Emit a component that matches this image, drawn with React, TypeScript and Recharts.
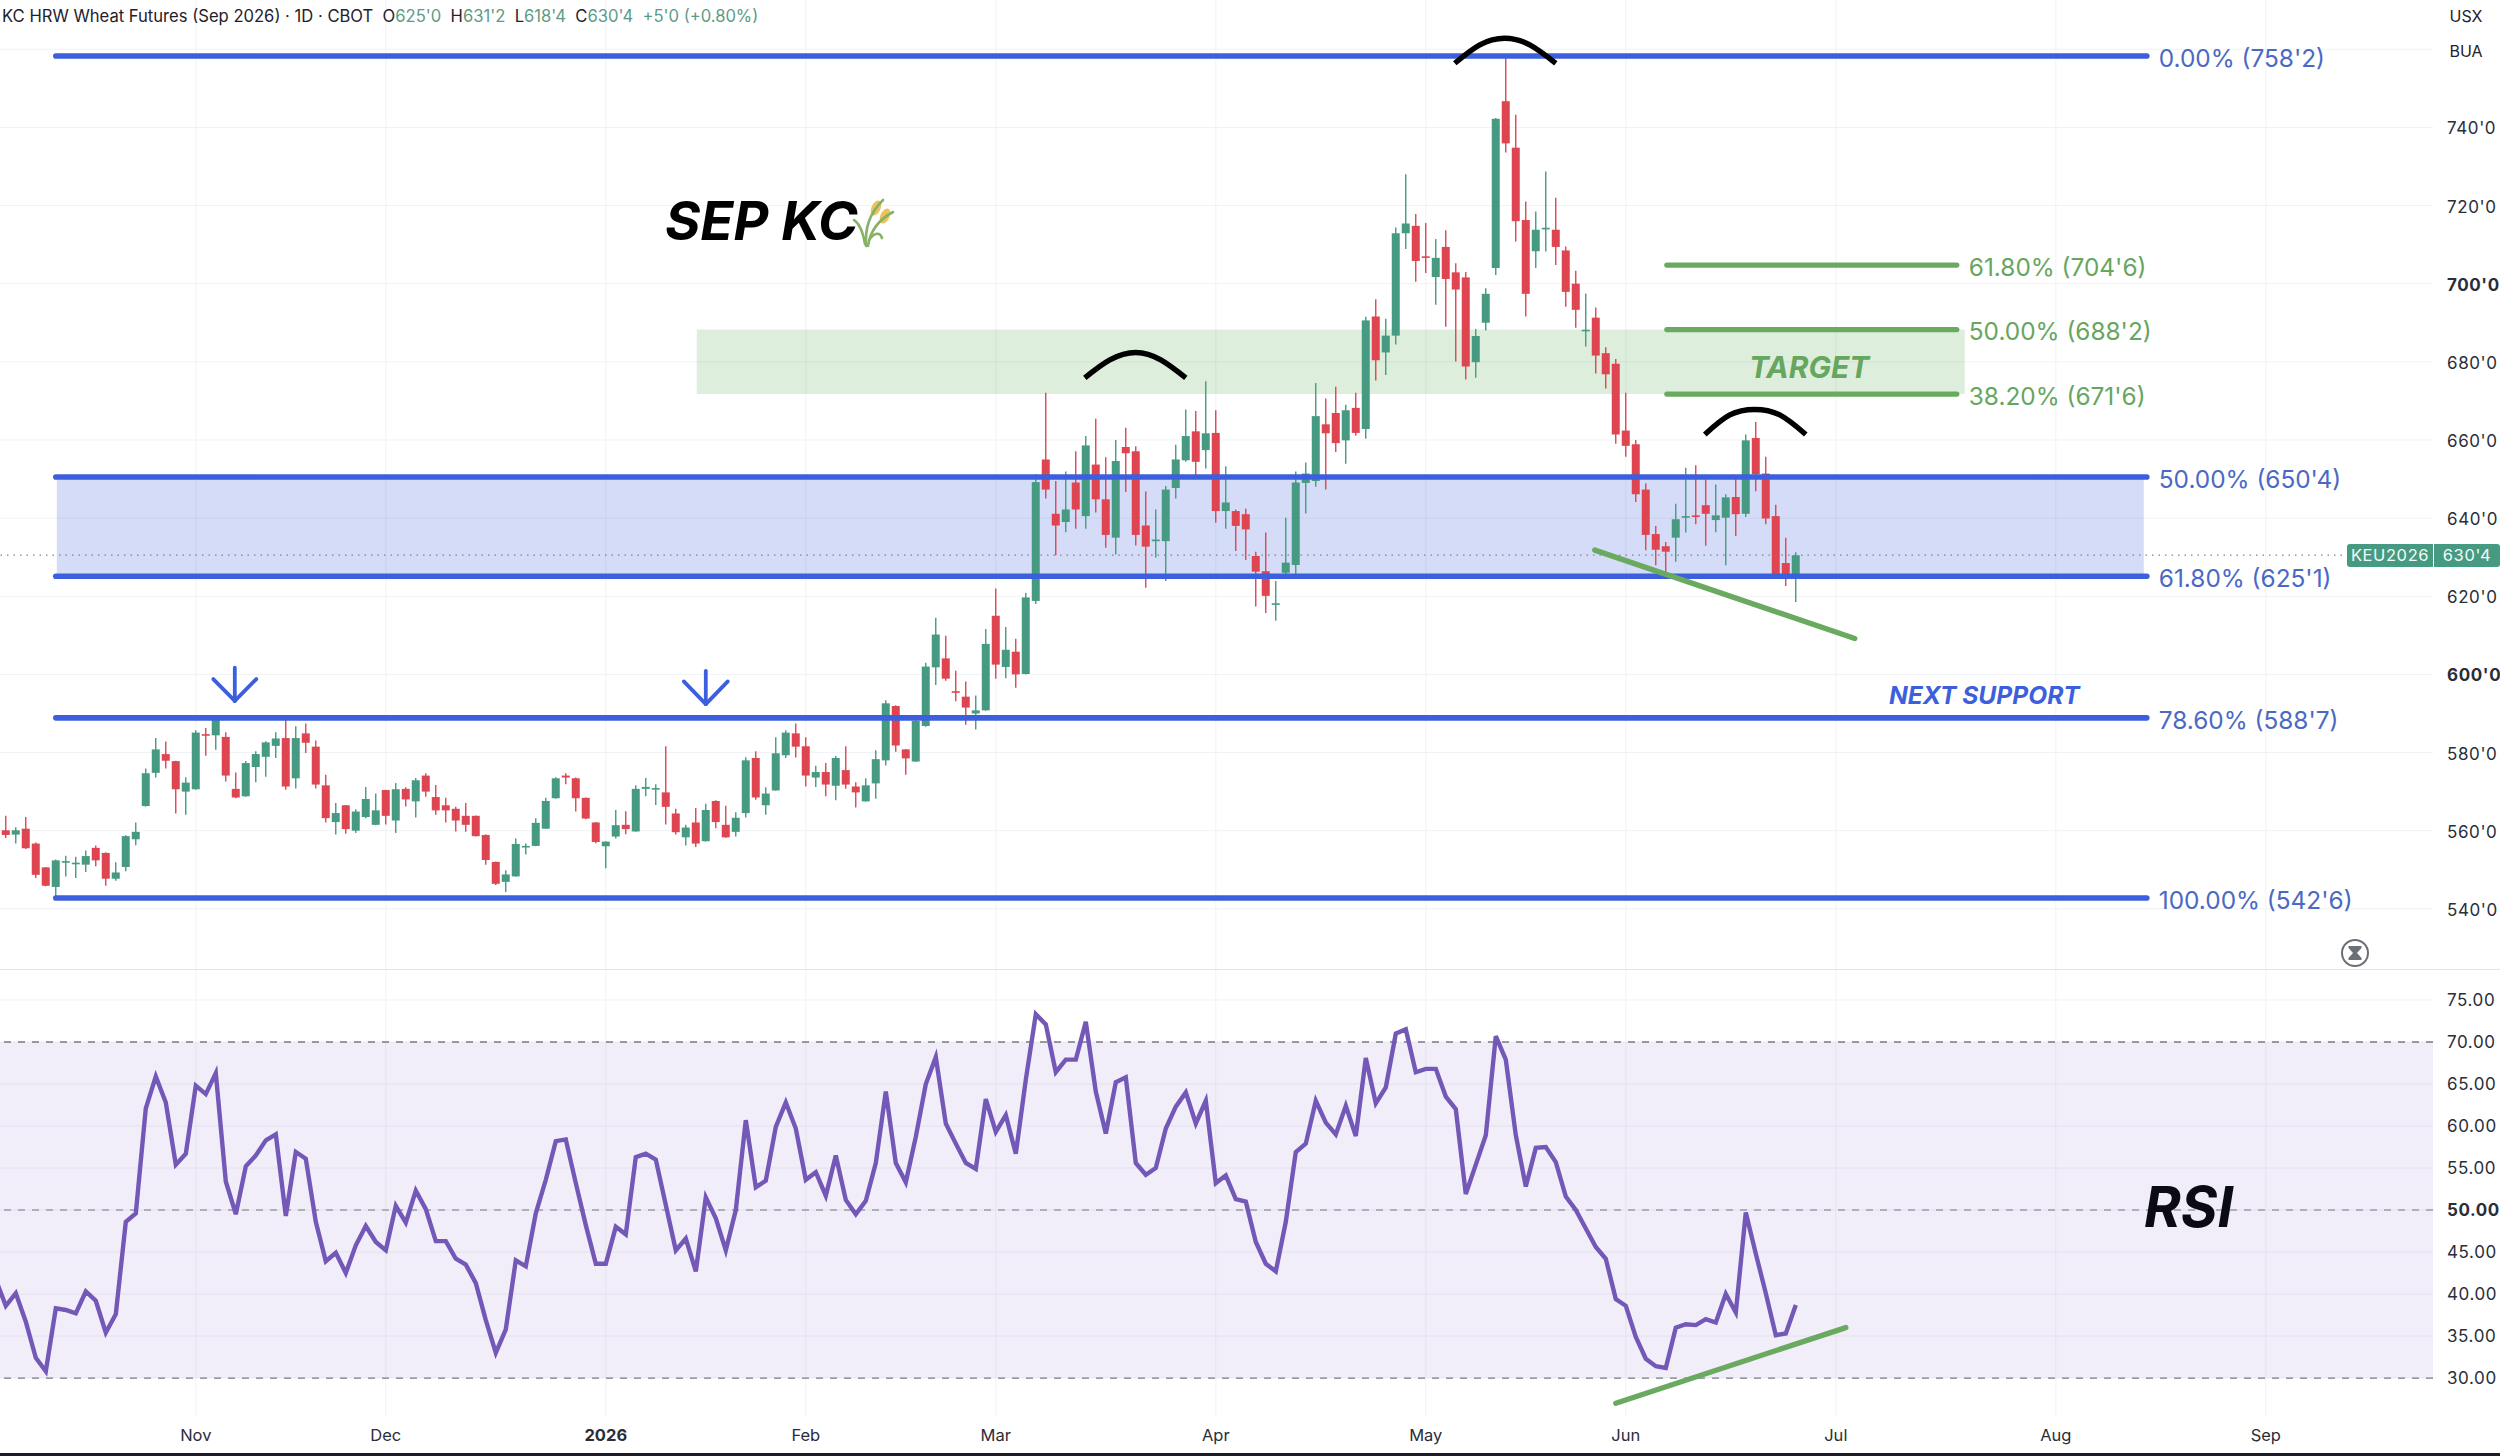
import {
  Bar,
  CartesianGrid,
  ComposedChart,
  Line,
  LineChart,
  ReferenceArea,
  ReferenceLine,
  XAxis,
  YAxis,
} from "recharts";

const FONT = "Inter, 'Liberation Sans', sans-serif";
const UP = "#459a81";
const DOWN = "#de4550";
const BLUE = "#3c5fdd";
const BLUE_TEXT = "#4a69c4";
const GREEN = "#6aaa60";
const GRID = "#f0f2f5";

const opens = [
  560.1, 559.0, 560.5, 556.7, 550.6, 545.6, 552.0, 551.5, 551.3, 555.6,
  554.3, 547.7, 550.7, 557.8, 566.3, 574.8, 579.6, 577.8, 570.0, 570.6,
  584.7, 584.4, 584.0, 570.7, 568.8, 576.3, 578.9, 581.7, 583.7, 573.4,
  584.9, 581.5, 571.6, 562.2, 566.5, 560.0, 563.5, 561.5, 570.4, 562.6,
  570.7, 567.5, 574.1, 568.6, 566.5, 565.6, 563.8, 563.8, 558.9, 552.0,
  546.9, 548.3, 555.9, 556.1, 560.5, 568.3, 574.1, 573.4, 568.4, 562.1,
  556.0, 558.5, 561.5, 559.8, 570.7, 570.7, 569.8, 564.4, 558.3, 562.1,
  557.3, 567.6, 561.5, 559.7, 564.5, 578.6, 566.5, 570.3, 579.3, 584.9,
  581.6, 573.6, 575.0, 571.5, 575.5, 571.3, 567.5, 572.1, 578.0, 591.9,
  580.8, 577.7, 586.8, 601.8, 604.1, 595.7, 594.3, 590.0, 590.8, 615.0,
  601.9, 605.8, 600.1, 618.8, 655.0, 641.1, 639.0, 649.1, 640.5, 653.7,
  644.8, 635.0, 658.2, 657.1, 638.1, 634.1, 634.1, 647.7, 654.8, 662.2,
  657.4, 661.8, 641.8, 641.8, 641.0, 630.3, 626.4, 617.8, 626.0, 628.0,
  649.0, 649.5, 664.0, 666.9, 659.9, 668.2, 662.8, 691.6, 682.4, 686.7,
  712.9, 714.8, 707.0, 701.7, 709.4, 702.9, 701.6, 679.9, 690.0, 704.0,
  746.7, 734.8, 716.3, 708.3, 714.0, 713.8, 708.5, 700.0, 688.0, 691.3,
  682.2, 679.5, 662.4, 658.9, 647.3, 635.9, 632.8, 635.0, 640.1, 640.7,
  643.3, 639.5, 640.1, 645.4, 641.1, 660.5, 651.4, 640.5, 628.5, 625.0,
];

const highs = [
  563.8, 560.9, 563.5, 557.0, 550.7, 552.6, 553.6, 553.3, 554.9, 556.2,
  554.5, 551.9, 558.8, 562.1, 575.9, 583.7, 582.8, 577.9, 573.7, 585.7,
  586.3, 589.5, 585.2, 574.9, 577.8, 580.3, 582.9, 585.2, 588.7, 586.7,
  587.4, 583.1, 574.3, 567.1, 566.6, 565.5, 571.2, 569.5, 570.5, 572.2,
  571.1, 573.5, 574.7, 571.7, 568.4, 566.1, 567.1, 563.9, 559.0, 552.1,
  549.9, 558.0, 556.7, 563.2, 568.4, 573.7, 574.7, 573.6, 568.5, 562.2,
  557.3, 565.3, 565.0, 571.6, 573.5, 571.9, 581.6, 565.6, 561.5, 565.8,
  566.9, 567.8, 566.4, 564.7, 578.8, 580.3, 571.1, 583.9, 585.7, 587.4,
  583.9, 576.6, 577.3, 579.1, 581.6, 572.4, 573.4, 580.6, 593.4, 592.1,
  580.9, 589.0, 603.0, 614.5, 609.9, 600.9, 598.2, 594.6, 611.6, 622.0,
  612.1, 609.1, 620.9, 651.2, 672.1, 649.5, 651.9, 657.1, 661.0, 665.4,
  655.6, 660.0, 663.1, 658.4, 646.8, 642.2, 648.2, 658.8, 667.8, 667.4,
  675.0, 667.6, 653.3, 642.2, 642.4, 631.4, 636.3, 623.9, 640.1, 651.9,
  654.2, 674.6, 670.6, 673.6, 669.0, 672.1, 691.5, 696.0, 691.0, 714.4,
  728.0, 717.8, 715.5, 711.4, 713.7, 705.2, 703.0, 688.4, 698.8, 742.4,
  758.25, 743.2, 721.0, 718.5, 728.7, 722.0, 709.5, 703.3, 697.5, 693.9,
  683.7, 680.7, 672.1, 660.0, 648.9, 638.0, 633.9, 643.7, 652.9, 653.5,
  650.1, 648.6, 646.1, 650.6, 661.4, 664.6, 655.7, 643.4, 635.0, 631.25,
];

const lows = [
  558.1, 556.7, 555.3, 547.9, 545.8, 543.0, 548.3, 547.9, 549.4, 550.9,
  545.9, 547.2, 549.6, 556.3, 566.2, 573.6, 575.9, 564.4, 564.1, 570.5,
  579.2, 580.7, 572.6, 568.3, 568.7, 572.4, 573.8, 578.6, 570.5, 570.8,
  579.9, 570.8, 562.1, 559.0, 559.2, 559.4, 563.2, 561.4, 561.6, 559.4,
  566.2, 563.4, 568.7, 564.1, 562.1, 559.8, 559.7, 558.5, 551.3, 546.1,
  544.3, 548.2, 553.9, 556.0, 560.4, 568.2, 571.9, 564.9, 562.9, 556.8,
  550.4, 558.0, 559.1, 559.7, 568.8, 566.6, 561.6, 559.0, 556.2, 555.8,
  557.2, 560.6, 558.2, 558.5, 563.4, 567.9, 564.1, 570.2, 578.6, 578.7,
  571.3, 571.2, 568.8, 567.8, 570.7, 565.9, 567.4, 568.2, 576.7, 580.2,
  574.3, 577.6, 586.6, 597.3, 598.4, 593.1, 587.1, 585.9, 590.7, 598.9,
  599.0, 596.6, 600.0, 618.0, 645.0, 630.5, 636.4, 637.3, 637.3, 641.4,
  632.4, 630.7, 646.7, 633.0, 622.2, 629.9, 623.9, 645.0, 654.4, 650.1,
  652.7, 638.8, 637.3, 631.6, 629.3, 617.4, 615.7, 613.7, 625.2, 624.5,
  641.2, 648.0, 647.3, 656.9, 653.9, 661.1, 660.3, 675.2, 676.6, 684.4,
  708.9, 700.5, 702.7, 694.6, 689.0, 680.1, 675.5, 675.9, 688.0, 702.2,
  733.6, 710.8, 691.6, 704.0, 708.2, 704.8, 694.1, 688.7, 683.9, 677.0,
  673.2, 659.0, 655.7, 644.1, 631.8, 627.9, 625.9, 628.8, 636.3, 638.4,
  632.9, 636.4, 627.9, 635.4, 640.3, 646.9, 638.4, 625.0, 622.6, 618.5,
];

const closes = [
  558.9, 560.1, 555.5, 548.7, 545.9, 552.4, 552.2, 551.8, 553.5, 552.4,
  547.7, 549.3, 558.6, 559.7, 574.7, 580.8, 577.9, 570.6, 572.3, 585.1,
  584.5, 588.5, 574.1, 568.5, 577.3, 579.6, 582.6, 583.6, 571.3, 583.7,
  582.5, 571.8, 563.2, 564.5, 560.4, 564.9, 568.1, 565.2, 563.8, 570.6,
  568.0, 572.9, 570.0, 565.2, 565.2, 562.6, 561.5, 558.6, 552.5, 546.4,
  548.8, 556.6, 556.1, 562.0, 567.6, 573.4, 573.6, 568.3, 563.1, 557.1,
  557.2, 561.4, 560.4, 570.7, 571.2, 570.9, 566.1, 559.6, 560.8, 556.7,
  565.3, 562.2, 558.3, 563.3, 578.0, 568.5, 569.5, 579.8, 585.1, 581.5,
  574.1, 575.0, 571.8, 578.6, 571.8, 569.8, 571.6, 578.3, 592.6, 581.8,
  578.5, 588.1, 602.0, 610.2, 598.9, 595.5, 591.5, 590.8, 607.8, 602.5,
  606.3, 600.0, 619.7, 649.2, 647.3, 638.1, 642.2, 642.2, 658.6, 644.8,
  635.7, 654.6, 656.6, 635.7, 632.7, 634.5, 647.3, 655.0, 661.0, 654.4,
  661.7, 641.8, 644.0, 638.0, 637.1, 626.3, 620.1, 618.2, 628.6, 649.1,
  651.4, 666.1, 661.7, 659.2, 667.6, 661.8, 690.6, 680.4, 686.7, 712.9,
  715.4, 705.8, 706.8, 706.6, 701.2, 698.5, 678.8, 686.6, 697.4, 742.2,
  735.9, 716.0, 697.4, 713.8, 714.3, 709.4, 697.9, 693.3, 688.2, 681.6,
  676.8, 661.4, 658.5, 646.1, 635.7, 631.9, 631.4, 639.7, 640.5, 640.5,
  641.1, 640.7, 645.3, 641.0, 659.9, 651.2, 639.9, 625.1, 625.4, 630.5,
];

// starts one session before the first candle, the line runs off the left edge
const rsiValues = [
  41.7,
  38.6, 40.1, 36.7, 32.4, 30.8, 38.3, 38.1, 37.7, 40.3, 39.2,
  35.4, 37.6, 48.6, 49.6, 62.1, 65.9, 62.8, 55.4, 56.7, 64.8,
  63.8, 66.3, 53.4, 49.5, 55.2, 56.5, 58.3, 59.0, 49.3, 56.9,
  56.1, 48.6, 43.9, 44.9, 42.5, 45.8, 48.1, 46.2, 45.2, 50.5,
  48.5, 52.3, 50.1, 46.3, 46.3, 44.2, 43.5, 41.3, 36.9, 33.0,
  35.8, 44.0, 43.3, 49.6, 53.6, 58.2, 58.4, 53.2, 48.2, 43.6,
  43.6, 48.0, 47.1, 56.3, 56.7, 56.0, 50.6, 45.2, 46.6, 42.7,
  51.5, 49.0, 45.2, 50.0, 60.7, 52.7, 53.5, 59.9, 62.8, 59.7,
  53.6, 54.5, 51.7, 56.5, 51.2, 49.5, 51.1, 55.6, 64.1, 55.6,
  53.3, 58.7, 65.0, 68.2, 60.3, 57.9, 55.6, 54.9, 63.2, 59.3,
  61.3, 56.7, 65.5, 73.3, 72.1, 66.4, 67.9, 67.9, 72.4, 64.1,
  59.1, 65.2, 65.8, 55.6, 54.2, 55.0, 59.7, 62.3, 64.0, 60.3,
  63.0, 53.2, 54.1, 51.3, 51.0, 46.2, 43.6, 42.7, 48.6, 56.9,
  57.9, 63.0, 60.4, 59.0, 62.4, 58.8, 68.1, 62.7, 64.6, 71.0,
  71.5, 66.4, 66.8, 66.8, 63.5, 62.0, 51.9, 55.4, 58.9, 70.7,
  67.9, 58.9, 52.8, 57.4, 57.5, 55.7, 51.6, 50.0, 47.8, 45.6,
  44.2, 39.4, 38.6, 34.9, 32.3, 31.4, 31.2, 36.0, 36.4, 36.3,
  37.0, 36.6, 40.0, 37.8, 49.7, 44.8, 40.1, 35.1, 35.3, 38.7,
];

const monthTicks = [19, 38, 60, 80, 99, 121, 142, 162, 183, 205, 226];
const monthLabels = ["Nov", "Dec", "2026", "Feb", "Mar", "Apr", "May", "Jun", "Jul", "Aug", "Sep"];

const priceTicks = [540, 560, 580, 600, 620, 640, 660, 680, 700, 720, 740];
const priceGrid = [...priceTicks, 760];
const rsiTicks = [30, 35, 40, 45, 50, 55, 60, 65, 70, 75];

const blueFibs = [
  { price: 758.25, label: "0.00% (758'2)" },
  { price: 650.5, label: "50.00% (650'4)" },
  { price: 625.125, label: "61.80% (625'1)" },
  { price: 588.875, label: "78.60% (588'7)" },
  { price: 542.75, label: "100.00% (542'6)" },
];
const greenFibs = [
  { price: 704.75, label: "61.80% (704'6)" },
  { price: 688.25, label: "50.00% (688'2)" },
  { price: 671.75, label: "38.20% (671'6)" },
];

const arcs = [
  [[107.9, 675.9], [110.4, 680.5], [113, 682.4], [115.5, 680.5], [118, 675.9]],
  [[144.9, 756.4], [147.4, 761.1], [149.9, 762.8], [152.4, 761.1], [155, 756.4]],
  [[169.9, 661.4], [172.4, 666.4], [174.9, 667.8], [177.4, 666.4], [180, 661.4]],
];

// each arrow: shaft top, left barb, right barb, all ending on the tip
const arrows = [
  { i: 22.9, tip: 593.2, top: 601.7, barb: 598.8, spread: 2.15 },
  { i: 70.0, tip: 592.4, top: 600.9, barb: 598.2, spread: 2.2 },
];

const candles = opens.map((open, i) => ({
  i,
  open,
  high: highs[i],
  low: lows[i],
  close: closes[i],
  range: [lows[i], highs[i]],
}));
const rsiRows = rsiValues.map((rsi, n) => ({ i: n - 1, rsi }));

const X_DOMAIN: [number, number] = [-0.58, 242.72];
const PRICE_DOMAIN: [number, number] = [524.34, 772.6];
const RSI_DOMAIN: [number, number] = [25.48, 78.57];

function Candle(props: any) {
  const { x, y, width, height, payload } = props;
  const { open, high, low, close } = payload;
  const unit = height / (high - low);
  const top = y + (high - Math.max(open, close)) * unit;
  const body = Math.max(Math.abs(open - close) * unit, 1.6);
  const color = close >= open ? UP : DOWN;
  const mid = x + width / 2;
  return (
    <g>
      <line x1={mid} x2={mid} y1={y} y2={y + height} stroke={color} strokeWidth={1.4} />
      <rect x={mid - 4} y={top} width={8} height={body} fill={color} />
    </g>
  );
}

function PriceTick({ x, y, payload }: any) {
  const bold = payload.value === 700 || payload.value === 600;
  return (
    <text x={x} y={y + 7} fontFamily={FONT} fontSize={17} fontWeight={bold ? 700 : 400} fill="#2a2e39" letterSpacing={0.6}>
      {`${payload.value}'0`}
    </text>
  );
}

function RsiTick({ x, y, payload }: any) {
  return (
    <text x={x} y={y + 6} fontFamily={FONT} fontSize={17} fontWeight={payload.value === 50 ? 700 : 400} fill="#2a2e39" letterSpacing={0.6}>
      {payload.value.toFixed(2)}
    </text>
  );
}

function MonthTick({ x, y, payload }: any) {
  const label = monthLabels[monthTicks.indexOf(payload.value)];
  return (
    <text x={x} y={y + 17} textAnchor="middle" fontFamily={FONT} fontSize={16.5} fontWeight={label === "2026" ? 700 : 400} fill="#2a2e39">
      {label}
    </text>
  );
}

function PriceChart() {
  return (
    <ComposedChart width={2500} height={970} data={candles} margin={{ top: 0, right: 0, bottom: 0, left: 0 }}>
      <CartesianGrid stroke={GRID} horizontalValues={priceGrid} verticalValues={monthTicks} />
      <XAxis dataKey="i" type="number" domain={X_DOMAIN} allowDataOverflow hide />
      <YAxis
        orientation="right"
        width={67}
        type="number"
        domain={PRICE_DOMAIN}
        allowDataOverflow
        ticks={priceTicks}
        tick={<PriceTick />}
        tickLine={false}
        axisLine={false}
        tickMargin={8}
      />
      <ReferenceArea x1={5.1} x2={213.8} y1={625.125} y2={650.5} fill={BLUE} fillOpacity={0.22} stroke="none" />
      <ReferenceArea x1={69.1} x2={195.9} y1={671.75} y2={688.25} fill="#5aa850" fillOpacity={0.2} stroke="none" />
      <ReferenceLine y={630.5} stroke="#7b8290" strokeDasharray="1.5 5" strokeWidth={1.2} />
      {blueFibs.map((f) => (
        <ReferenceLine
          key={f.label}
          segment={[{ x: 5, y: f.price }, { x: 214.1, y: f.price }]}
          stroke={BLUE}
          strokeWidth={5.6}
          strokeLinecap="round"
          label={{ value: f.label, position: "right", offset: 12, dy: 2, fill: BLUE_TEXT, fontSize: 24.4, fontFamily: FONT }}
        />
      ))}
      {greenFibs.map((f) => (
        <ReferenceLine
          key={f.label}
          segment={[{ x: 166.1, y: f.price }, { x: 195.1, y: f.price }]}
          stroke={GREEN}
          strokeWidth={5.2}
          strokeLinecap="round"
          label={{ value: f.label, position: "right", offset: 12, dy: 2, fill: "#66a65e", fontSize: 24.4, fontFamily: FONT }}
        />
      ))}
      <Bar dataKey="range" barSize={8} shape={<Candle />} isAnimationActive={false} />
      {arrows.flatMap((a) => [
        [a.i, a.top],
        [a.i - a.spread, a.barb],
        [a.i + a.spread, a.barb],
      ].map(([x, y]) => (
        <ReferenceLine
          key={`${a.i}-${x}`}
          segment={[{ x, y }, { x: a.i, y: a.tip }]}
          stroke={BLUE}
          strokeWidth={3.8}
          strokeLinecap="round"
        />
      )))}
      <ReferenceLine
        segment={[{ x: 158.9, y: 631.8 }, { x: 184.9, y: 609.2 }]}
        stroke={GREEN}
        strokeWidth={5.4}
        strokeLinecap="round"
      />
      {arcs.map((arc, n) => (
        <Line
          key={n}
          data={arc.map(([i, y]) => ({ i, arc: y }))}
          dataKey="arc"
          type="natural"
          stroke="#000"
          strokeWidth={5.4}
          legendType="none"
          dot={false}
          activeDot={false}
          isAnimationActive={false}
        />
      ))}
    </ComposedChart>
  );
}

function RsiChart() {
  return (
    <LineChart width={2500} height={486} data={rsiRows} margin={{ top: 0, right: 0, bottom: 0, left: 0 }}>
      <CartesianGrid stroke={GRID} horizontalValues={rsiTicks} verticalValues={monthTicks} />
      <XAxis
        dataKey="i"
        type="number"
        domain={X_DOMAIN}
        allowDataOverflow
        ticks={monthTicks}
        height={40}
        tick={<MonthTick />}
        tickLine={false}
        axisLine={false}
      />
      <YAxis
        orientation="right"
        width={67}
        type="number"
        domain={RSI_DOMAIN}
        allowDataOverflow
        ticks={rsiTicks}
        tick={<RsiTick />}
        tickLine={false}
        axisLine={false}
        tickMargin={8}
      />
      <ReferenceArea y1={30} y2={70} fill="#7e5cc4" fillOpacity={0.1} stroke="none" />
      <ReferenceLine y={70} stroke="#787b86" strokeDasharray="7 7" strokeWidth={1.3} />
      <ReferenceLine y={50} stroke="#9a9ca5" strokeDasharray="7 7" strokeWidth={1.3} />
      <ReferenceLine y={30} stroke="#787b86" strokeDasharray="7 7" strokeWidth={1.3} />
      <Line dataKey="rsi" type="linear" stroke="#7358b8" strokeWidth={4.4} dot={false} isAnimationActive={false} />
      <ReferenceLine
        segment={[{ x: 161, y: 27 }, { x: 184, y: 36 }]}
        stroke={GREEN}
        strokeWidth={5.4}
        strokeLinecap="round"
      />
    </LineChart>
  );
}

function Note({ x, y, size, color, children }: any) {
  return (
    <div
      style={{
        position: "absolute",
        left: x,
        top: y,
        fontFamily: FONT,
        fontSize: size,
        fontWeight: 700,
        fontStyle: "italic",
        color,
        lineHeight: 1,
        whiteSpace: "nowrap",
      }}
    >
      {children}
    </div>
  );
}

function Wheat() {
  return (
    <svg style={{ position: "absolute", left: 852, top: 196 }} width={44} height={52} viewBox="0 0 44 52">
      <ellipse cx={24} cy={12} rx={4.5} ry={8} fill="#eec25a" transform="rotate(25 24 12)" />
      <ellipse cx={33} cy={20} rx={4.5} ry={8} fill="#eec25a" transform="rotate(25 33 20)" />
      <g fill="none" stroke="#86b266" strokeWidth={2.6} strokeLinecap="round">
        <path d="M14 50 C13 32 17 18 31 4" />
        <path d="M16 50 C18 36 26 24 41 16" />
        <path d="M13 48 C11 36 8 28 2 24" />
        <path d="M17 44 C23 36 28 36 30 42" />
      </g>
    </svg>
  );
}

function Hourglass() {
  return (
    <svg style={{ position: "absolute", left: 2340, top: 938 }} width={30} height={30} viewBox="0 0 30 30">
      <circle cx={15} cy={15} r={13} fill="#fff" stroke="#6b6f78" strokeWidth={2} />
      <path d="M8.5 8 H21.5 V10 L17 15 L21.5 20 V22 H8.5 V20 L13 15 L8.5 10 Z" fill="#6b6f78" />
    </svg>
  );
}

function Header() {
  const quote = { color: "#5d9a85" };
  return (
    <div
      style={{
        position: "absolute",
        left: 2,
        top: 6,
        fontFamily: FONT,
        fontSize: 16.6,
        lineHeight: "20px",
        color: "#1f222b",
        whiteSpace: "pre",
      }}
    >
      {"KC HRW Wheat Futures (Sep 2026) · 1D · CBOT  O"}
      <span style={quote}>625'0</span>
      {"  H"}
      <span style={quote}>631'2</span>
      {"  L"}
      <span style={quote}>618'4</span>
      {"  C"}
      <span style={quote}>630'4</span>
      <span style={quote}>{"  +5'0 (+0.80%)"}</span>
    </div>
  );
}

function PriceTag() {
  const cell = {
    position: "absolute" as const,
    top: 544,
    height: 23,
    lineHeight: "23px",
    background: "#479a82",
    color: "#f4fbf8",
    fontFamily: FONT,
    fontSize: 16.5,
    letterSpacing: 0.6,
    textAlign: "center" as const,
  };
  return (
    <>
      <div style={{ ...cell, left: 2347, width: 86, borderRadius: "3px 0 0 3px" }}>KEU2026</div>
      <div style={{ ...cell, left: 2434, width: 66, borderRadius: "0 3px 3px 0" }}>630'4</div>
    </>
  );
}

function CurrencyBox() {
  return (
    <div
      style={{
        position: "absolute",
        left: 2440,
        top: 0,
        width: 60,
        height: 67,
        background: "#fff",
        borderRadius: 5,
        fontFamily: FONT,
        fontSize: 16,
        color: "#1f222b",
        textAlign: "center",
      }}
    >
      <div style={{ position: "absolute", left: 0, right: 8, top: 6 }}>USX</div>
      <div style={{ position: "absolute", left: 0, right: 8, top: 41 }}>BUA</div>
    </div>
  );
}

export default function App() {
  return (
    <div style={{ position: "absolute", left: 0, top: 0, width: 2500, height: 1456, overflow: "hidden", background: "#fff" }}>
      <div style={{ position: "absolute", left: 0, top: 0 }}>
        <PriceChart />
      </div>
      <div style={{ position: "absolute", left: 0, top: 969, width: 2500, height: 1, background: "#e0e3e8" }} />
      <div style={{ position: "absolute", left: 0, top: 970 }}>
        <RsiChart />
      </div>
      <div style={{ position: "absolute", left: 0, top: 1453, width: 2500, height: 3, background: "#1c1c28" }} />
      <Header />
      <CurrencyBox />
      <PriceTag />
      <Hourglass />
      <Note x={665} y={194} size={54} color="#000">SEP KC</Note>
      <Wheat />
      <Note x={1749} y={352} size={30} color="#66a65e">TARGET</Note>
      <Note x={1889} y={683} size={24.6} color={BLUE}>NEXT SUPPORT</Note>
      <Note x={2144} y={1179} size={56} color="#0b0b14">RSI</Note>
    </div>
  );
}
